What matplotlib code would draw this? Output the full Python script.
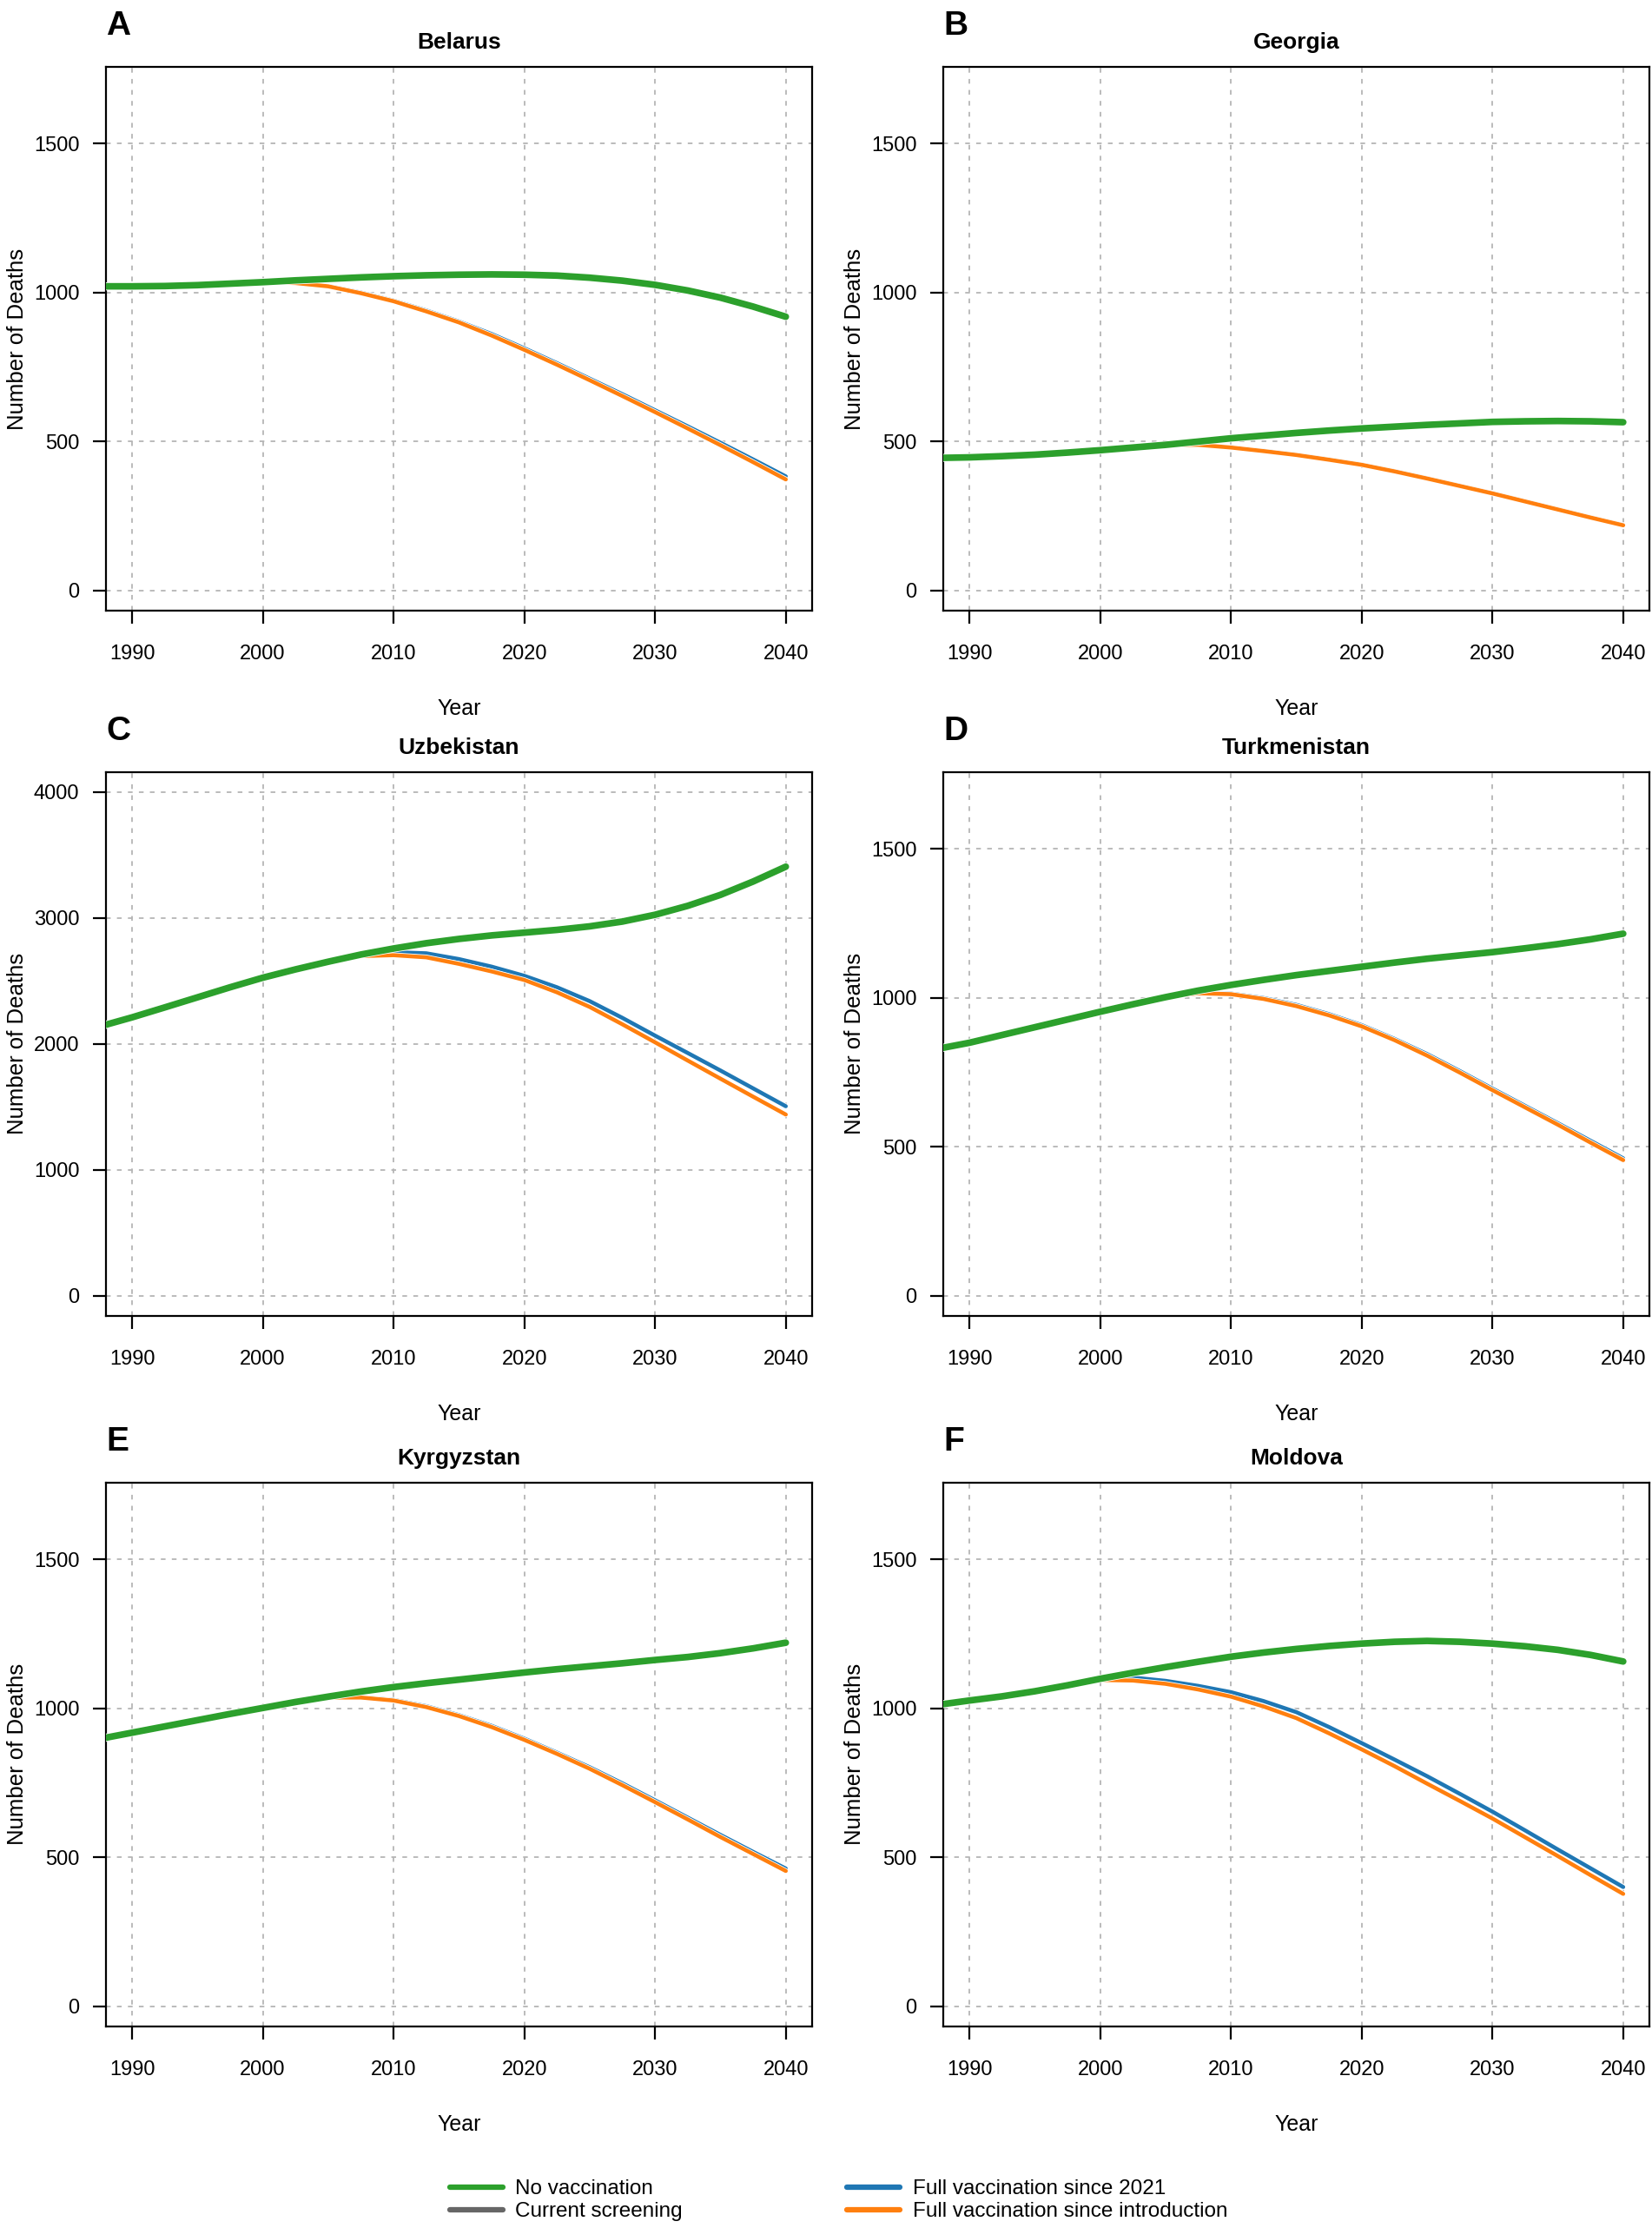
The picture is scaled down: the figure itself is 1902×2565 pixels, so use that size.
import numpy as np
import matplotlib
matplotlib.use("Agg")
import matplotlib.pyplot as plt
import matplotlib.patheffects as pe
from matplotlib.lines import Line2D

plt.rcParams['font.family'] = ['Liberation Sans', 'DejaVu Sans']

YEARS = np.array([1987.5, 1990, 1992.5, 1995, 1997.5, 2000, 2002.5, 2005, 2007.5, 2010, 2012.5,
                  2015, 2017.5, 2020, 2022.5, 2025, 2027.5, 2030, 2032.5, 2035, 2037.5, 2040])

countries = ["Belarus", "Georgia", "Uzbekistan", "Turkmenistan", "Kyrgyzstan", "Moldova"]
letters = ["A", "B", "C", "D", "E", "F"]

# No vaccination (current screening is identical and sits underneath)
belarus_none = [1021, 1021, 1022, 1025, 1030, 1035, 1041, 1046, 1051, 1055, 1058,
                1060, 1061, 1060, 1057, 1050, 1040, 1026, 1007, 983, 953, 919]
georgia_none = [445, 447, 451, 456, 463, 471, 480, 489, 500, 511, 520,
                529, 537, 544, 550, 556, 561, 566, 568, 569, 568, 565]
uzbekistan_none = [2138, 2211, 2290, 2370, 2450, 2526, 2592, 2653, 2710, 2758, 2800,
                   2834, 2862, 2884, 2906, 2934, 2972, 3026, 3097, 3184, 3290, 3408]
turkmenistan_none = [828, 849, 875, 901, 927, 953, 978, 1002, 1024, 1043, 1060,
                     1076, 1090, 1104, 1118, 1131, 1142, 1153, 1166, 1180, 1196, 1215]
kyrgyzstan_none = [897, 918, 939, 960, 981, 1001, 1021, 1039, 1056, 1071, 1084,
                   1096, 1108, 1120, 1131, 1141, 1151, 1162, 1172, 1185, 1201, 1220]
moldova_none = [1011, 1026, 1040, 1057, 1077, 1099, 1119, 1138, 1156, 1173, 1187,
                1199, 1209, 1217, 1223, 1226, 1223, 1217, 1208, 1196, 1179, 1157]

# first year of the vaccination scenarios (where they branch off)
vacc_start = [2000, 2005, 2005, 2005, 2002.5, 1997.5]

# Full vaccination since 2021
belarus_2021 = [1035, 1033, 1022, 1000, 973, 940, 903, 861, 813, 763, 711, 659, 605, 551, 496, 440, 383]
georgia_2021 = [489, 489, 481, 469, 456, 440, 423, 401, 377, 352, 327, 300, 273, 246, 220]
uzbekistan_2021 = [2653, 2705, 2729, 2720, 2674, 2614, 2541, 2450, 2340, 2207, 2066, 1928, 1789, 1647, 1505]
turkmenistan_2021 = [1002, 1016, 1014, 999, 976, 945, 908, 862, 811, 754, 695, 637, 579, 520, 461]
kyrgyzstan_2021 = [1021, 1037, 1037, 1028, 1007, 977, 941, 898, 851, 802, 748, 691, 633, 575, 518, 462]
moldova_2021 = [1077, 1099, 1103, 1092, 1075, 1054, 1024, 987, 937, 883, 828, 772, 713, 653, 590, 526, 463, 400]

# Full vaccination since introduction
belarus_intro = [1035, 1032, 1021, 998, 971, 937, 900, 856, 808, 758, 706, 653, 599, 544, 488, 431, 373]
georgia_intro = [489, 489, 480, 468, 455, 439, 422, 400, 376, 351, 326, 299, 272, 245, 219]
uzbekistan_intro = [2650, 2698, 2705, 2688, 2636, 2576, 2508, 2410, 2294, 2156, 2013, 1868, 1724, 1581, 1439]
turkmenistan_intro = [1002, 1015, 1012, 996, 972, 941, 904, 858, 806, 749, 690, 632, 574, 514, 455]
kyrgyzstan_intro = [1021, 1036, 1036, 1026, 1004, 974, 937, 894, 847, 797, 742, 685, 627, 568, 511, 454]
moldova_intro = [1077, 1095, 1093, 1082, 1063, 1039, 1006, 967, 916, 862, 806, 747, 689, 630, 567, 504, 440, 377]

none_series = [belarus_none, georgia_none, uzbekistan_none, turkmenistan_none, kyrgyzstan_none, moldova_none]
v2021_series = [belarus_2021, georgia_2021, uzbekistan_2021, turkmenistan_2021, kyrgyzstan_2021, moldova_2021]
intro_series = [belarus_intro, georgia_intro, uzbekistan_intro, turkmenistan_intro, kyrgyzstan_intro, moldova_intro]
ytop = [1690, 1690, 4000, 1690, 1690, 1690]
yticks_list = [[0, 500, 1000, 1500]] * 2 + [[0, 1000, 2000, 3000, 4000]] + [[0, 500, 1000, 1500]] * 3

GREEN = "#2ca02c"
GREY = "#666666"
BLUE = "#1f77b4"
ORANGE = "#ff7f0e"

fig = plt.figure(figsize=(19.02, 25.65), dpi=100)

lefts = [0.0641, 0.5710]
bottoms = [0.7259, 0.4094, 0.0905]
w, h = 0.4274, 0.2441

halo = lambda lw: [pe.Stroke(linewidth=lw + 1.2, foreground="white"), pe.Normal()]

for i, name in enumerate(countries):
    ax = fig.add_axes([lefts[i % 2], bottoms[i // 2], w, h])
    x_v = YEARS[YEARS >= vacc_start[i]]

    ax.plot(YEARS, none_series[i], color=GREY, lw=5.5, solid_capstyle="round", zorder=2)
    ax.plot(x_v, v2021_series[i], color=BLUE, lw=3.3, solid_capstyle="round",
            path_effects=halo(3.3), zorder=3)
    ax.plot(x_v, intro_series[i], color=ORANGE, lw=3.3, solid_capstyle="round",
            path_effects=halo(3.3), zorder=4)
    ax.plot(YEARS, none_series[i], color=GREEN, lw=5.5, solid_capstyle="round",
            path_effects=halo(5.5), zorder=5)

    ax.set_xlim(1988, 2042)
    ax.set_ylim(-0.04 * ytop[i], 1.04 * ytop[i])
    ax.set_xticks([1990, 2000, 2010, 2020, 2030, 2040])
    ax.set_yticks(yticks_list[i])
    ax.grid(True, color="#b5b5b5", linestyle=(0, (3, 4)), lw=1.3, zorder=0)
    ax.set_axisbelow(True)

    for s in ax.spines.values():
        s.set_linewidth(1.6)
    ax.tick_params(axis="both", direction="out", length=11, width=1.6, labelsize=17)
    ax.tick_params(axis="y", pad=11)
    ax.tick_params(axis="x", pad=17)

    ax.set_xlabel("Year", fontsize=18, labelpad=29)
    ax.set_ylabel("Number of Deaths", fontsize=18.5, labelpad=5)
    ax.set_title(name, fontsize=19, fontweight="bold", pad=15)
    ax.text(0.0, 1.059, letters[i], transform=ax.transAxes, fontsize=28,
            fontweight="bold", ha="left", va="baseline")

handles = [
    Line2D([], [], color=GREEN, lw=4.5, solid_capstyle="round"),
    Line2D([], [], color=GREY, lw=4.5, solid_capstyle="round"),
    Line2D([], [], color=BLUE, lw=4.5, solid_capstyle="round"),
    Line2D([], [], color=ORANGE, lw=4.5, solid_capstyle="round"),
]
labels = ["No vaccination", "Current screening",
          "Full vaccination since 2021", "Full vaccination since introduction"]
fig.legend(handles, labels, ncol=2, loc="upper left", bbox_to_anchor=(0.2723, 0.0218),
           frameon=False, fontsize=17.5, handlelength=2.5, handletextpad=0.6,
           columnspacing=7.8, labelspacing=0.18, borderpad=0, borderaxespad=0)

fig.savefig("out.png", dpi=100)
